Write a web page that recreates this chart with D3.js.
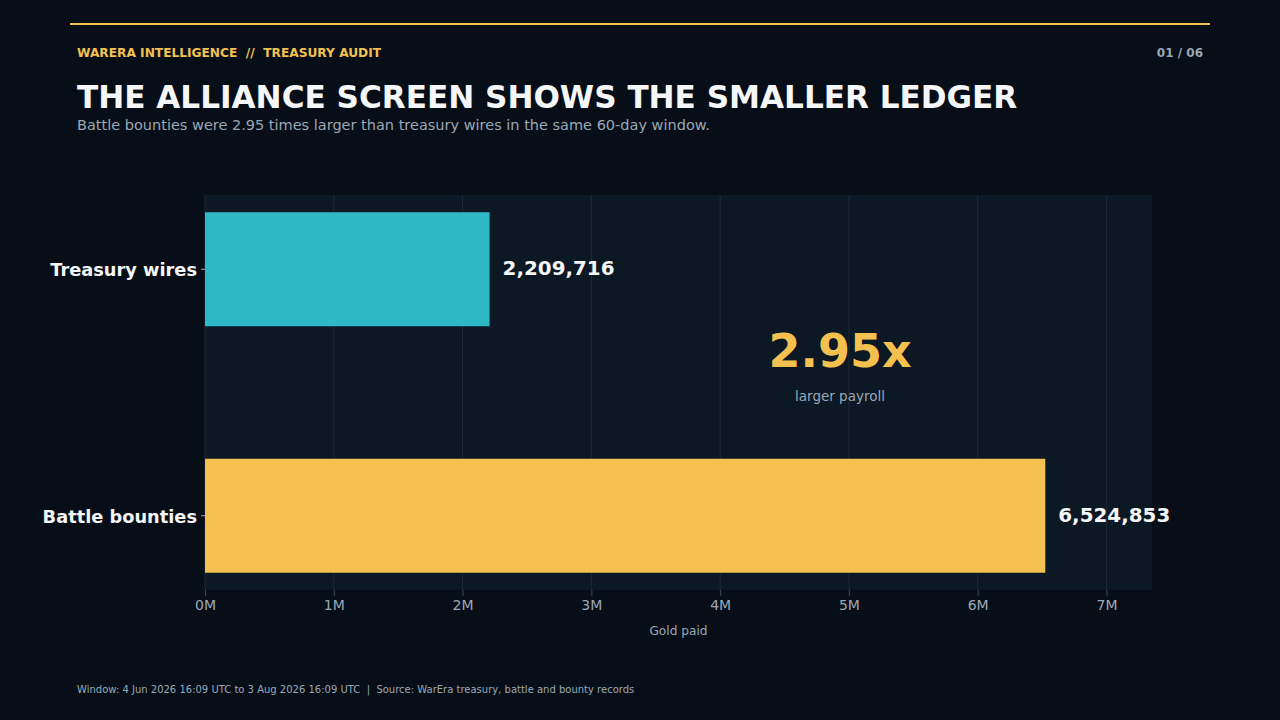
<!DOCTYPE html>
<html>
<head>
<meta charset="utf-8">
<script src="https://cdn.jsdelivr.net/npm/d3@7/dist/d3.min.js"></script>
<style>
  html, body { margin: 0; padding: 0; background: #080e17; }
  svg { display: block; font-family: "DejaVu Sans", sans-serif; }
</style>
</head>
<body>
<svg id="chart" width="1280" height="720"></svg>
<script>
// data
const categories = ["Treasury wires", "Battle bounties"];
const goldPaid = [2209716, 6524853];
const barColors = ["#2fb8c6", "#f4c150"];
const xTicks = [0, 1e6, 2e6, 3e6, 4e6, 5e6, 6e6, 7e6];
const ratioLabel = "2.95x";

const W = 1280, H = 720;
const margin = { top: 195, right: 128, bottom: 130, left: 205 };
const innerW = W - margin.left - margin.right;
const innerH = H - margin.top - margin.bottom;

const svg = d3.select("#chart");

// background
svg.append("rect").attr("width", W).attr("height", H).attr("fill", "#080e17");

// top accent line
svg.append("line")
    .attr("x1", 70).attr("x2", 1210)
    .attr("y1", 24).attr("y2", 24)
    .attr("stroke", "#f4c150").attr("stroke-width", 2);

// header texts
svg.append("text")
    .attr("x", 77).attr("y", 57)
    .style("font-size", "12.2px").style("font-weight", "700")
    .attr("fill", "#f4c150")
    .attr("xml:space", "preserve")
    .text("WARERA INTELLIGENCE  //  TREASURY AUDIT");

svg.append("text")
    .attr("x", 1203).attr("y", 57)
    .attr("text-anchor", "end")
    .style("font-size", "12px").style("font-weight", "700")
    .attr("fill", "#9aa8b6")
    .text("01 / 06");

svg.append("text")
    .attr("x", 77).attr("y", 108)
    .style("font-size", "31.1px").style("font-weight", "700")
    .attr("fill", "#f4f6f8")
    .text("THE ALLIANCE SCREEN SHOWS THE SMALLER LEDGER");

svg.append("text")
    .attr("x", 77).attr("y", 130)
    .style("font-size", "14.5px")
    .attr("fill", "#9aa8b6")
    .text("Battle bounties were 2.95 times larger than treasury wires in the same 60-day window.");

// chart group
const chart = svg.append("g").attr("transform", `translate(${margin.left},${margin.top})`);

chart.append("rect")
    .attr("width", innerW).attr("height", innerH)
    .attr("fill", "#0c1824");

const xScale = d3.scaleLinear()
    .domain([0, d3.max(goldPaid) * 1.127])
    .range([0, innerW]);

const yScale = d3.scaleBand()
    .domain(categories)
    .range([0, innerH])
    .paddingInner(0.5375)
    .paddingOuter(0.07);

// gridlines
chart.selectAll(".grid")
    .data(xTicks)
    .enter()
    .append("line")
    .attr("class", "grid")
    .attr("x1", d => xScale(d)).attr("x2", d => xScale(d))
    .attr("y1", 0).attr("y2", innerH)
    .attr("stroke", "#1d2936").attr("stroke-width", 1);

// bars
chart.selectAll(".bar")
    .data(categories)
    .enter()
    .append("rect")
    .attr("class", "bar")
    .attr("x", 0)
    .attr("y", d => yScale(d))
    .attr("width", (d, i) => xScale(goldPaid[i]))
    .attr("height", yScale.bandwidth())
    .attr("fill", (d, i) => barColors[i]);

// value labels
chart.selectAll(".value")
    .data(categories)
    .enter()
    .append("text")
    .attr("class", "value")
    .attr("x", (d, i) => xScale(goldPaid[i]) + 13)
    .attr("y", d => yScale(d) + yScale.bandwidth() / 2)
    .attr("dy", "0.3em")
    .style("font-size", "19.9px").style("font-weight", "700")
    .attr("fill", "#f4f6f8")
    .text((d, i) => d3.format(",")(goldPaid[i]));

// x axis
const xAxis = d3.axisBottom(xScale)
    .tickValues(xTicks)
    .tickSize(6)
    .tickPadding(4)
    .tickFormat(d => `${d / 1e6}M`);

const xg = chart.append("g")
    .attr("transform", `translate(0,${innerH})`)
    .call(xAxis);
xg.select(".domain").remove();
xg.selectAll(".tick line").attr("stroke", "#3a4654");
xg.selectAll("text")
    .attr("fill", "#9aa8b6")
    .style("font-size", "14px")
    .style("font-family", "DejaVu Sans, sans-serif");

// y axis
const yAxis = d3.axisLeft(yScale).tickSize(4).tickPadding(4);
const yg = chart.append("g").call(yAxis);
yg.select(".domain").remove();
yg.selectAll(".tick line").attr("stroke", "#9aa8b6");
yg.selectAll("text")
    .attr("dy", "0.4em")
    .attr("fill", "#f4f6f8")
    .style("font-size", "17.8px")
    .style("font-weight", "700")
    .style("font-family", "DejaVu Sans, sans-serif");

// axis title
chart.append("text")
    .attr("x", innerW / 2).attr("y", innerH + 45)
    .attr("text-anchor", "middle")
    .style("font-size", "12.2px")
    .attr("fill", "#9aa8b6")
    .text("Gold paid");

// ratio callout
chart.append("text")
    .attr("x", 635).attr("y", 172)
    .attr("text-anchor", "middle")
    .style("font-size", "46px").style("font-weight", "700")
    .attr("fill", "#f4c150")
    .text(ratioLabel);

chart.append("text")
    .attr("x", 635).attr("y", 206)
    .attr("text-anchor", "middle")
    .style("font-size", "13.5px")
    .attr("fill", "#9aa8b6")
    .text("larger payroll");

// footer
svg.append("text")
    .attr("x", 77).attr("y", 693)
    .style("font-size", "10px")
    .attr("fill", "#9aa8b6")
    .attr("xml:space", "preserve")
    .text("Window: 4 Jun 2026 16:09 UTC to 3 Aug 2026 16:09 UTC  |  Source: WarEra treasury, battle and bounty records");
</script>
</body>
</html>
